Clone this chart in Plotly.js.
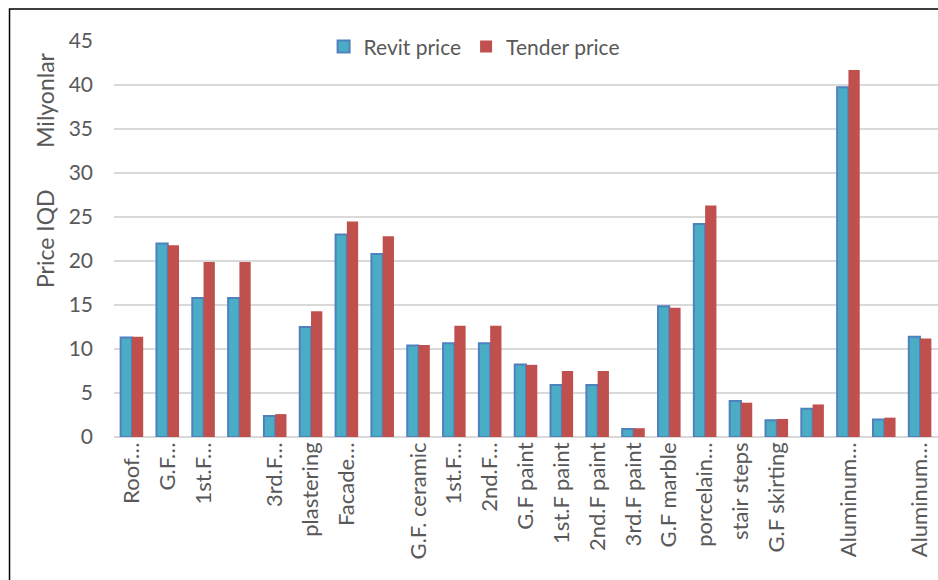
<!DOCTYPE html>
<html lang="en">
  <head>
    <meta charset="UTF-8" />
    <title>Revit vs Tender price</title>
    <script src="https://cdn.plot.ly/plotly-3.0.1.min.js"></script>
    <style>
      body { margin: 0; background: #fff; }
      #myDiv { width: 938px; height: 580px; }
    </style>
  </head>
  <body>
    <div id="myDiv"></div>
    <script>
      // axis labels as shown (some are hidden by the chart)
      var labels = [
        "Roof…", "G.F…", "1st.F…", "", "3rd.F…", "plastering", "Facade…", "",
        "G.F. ceramic", "1st.F…", "2nd.F…", "G.F paint", "1st.F paint",
        "2nd.F paint", "3rd.F paint", "G.F marble", "porcelain…", "stair steps",
        "G.F skirting", "", "Aluminum…", "", "Aluminum…"
      ];

      // values in millions of IQD
      var revitPrice = [
        11.3, 22.0, 15.8, 15.8, 2.4, 12.5, 23.0, 20.8, 10.4, 10.65, 10.65,
        8.25, 5.9, 5.9, 0.9, 14.85, 24.2, 4.1, 1.9, 3.2, 39.75, 2.0, 11.4
      ];
      var tenderPrice = [
        11.4, 21.8, 19.9, 19.9, 2.6, 14.3, 24.5, 22.8, 10.45, 12.65, 12.65,
        8.2, 7.5, 7.5, 1.0, 14.7, 26.3, 3.9, 2.05, 3.7, 41.7, 2.2, 11.2
      ];

      var idx = labels.map(function (_, i) { return i; });
      var grey = "#595959";
      var font = "Lato, 'Open Sans', sans-serif";

      var data = [
        {
          type: "bar",
          name: "Revit price",
          x: idx,
          y: revitPrice,
          marker: { color: "#4BACC6", line: { color: "#4F81BD", width: 2 } },
        },
        {
          type: "bar",
          name: "Tender price",
          x: idx,
          y: tenderPrice,
          marker: { color: "#C0504D", line: { width: 0 } },
        },
      ];

      var layout = {
        width: 938,
        height: 580,
        margin: { l: 114, r: 0, t: 41, b: 142.5 },
        paper_bgcolor: "#fff",
        plot_bgcolor: "#fff",
        font: { family: font, color: grey, size: 20 },
        barmode: "group",
        bargap: 0.37,
        bargroupgap: 0,
        showlegend: true,
        legend: {
          orientation: "h",
          x: 0.437,
          xanchor: "center",
          y: 0.985,
          yanchor: "middle",
          bgcolor: "#fff",
          font: { size: 21, color: grey },
          itemwidth: 30,
        },
        xaxis: {
          range: [-0.5, labels.length - 0.5],
          tickvals: idx,
          ticktext: labels,
          tickangle: -90,
          tickfont: { size: 22, color: grey },
          showgrid: false,
          zeroline: false,
          showline: false,
          ticks: "",
          fixedrange: true,
        },
        yaxis: {
          range: [0, 45],
          dtick: 5,
          tickfont: { size: 21, color: grey },
          gridcolor: "#D9D9D9",
          gridwidth: 1.5,
          zeroline: true,
          zerolinecolor: "#D9D9D9",
          zerolinewidth: 1.5,
          showline: false,
          ticks: "",
          ticklabelstandoff: 20,
          fixedrange: true,
        },
        annotations: [
          {
            text: "Price IQD",
            xref: "paper", yref: "paper",
            x: -0.0837, y: 0.5,
            xanchor: "center", yanchor: "middle",
            textangle: -90,
            showarrow: false,
            font: { size: 23, color: grey },
          },
          {
            text: "Milyonlar",
            xref: "paper", yref: "paper",
            x: -0.0837, y: 0.849,
            xanchor: "center", yanchor: "middle",
            textangle: -90,
            showarrow: false,
            font: { size: 23, color: grey },
          },
        ],
        shapes: [
          {
            // outer frame of the chart
            type: "rect",
            xref: "paper", yref: "paper",
            x0: -0.1268, x1: 1.2,
            y0: -0.6, y1: 1.0807,
            line: { color: "#000", width: 1.5 },
            layer: "below",
          },
        ],
      };

      Plotly.newPlot("myDiv", data, layout, { displayModeBar: false, staticPlot: true });
    </script>
  </body>
</html>
